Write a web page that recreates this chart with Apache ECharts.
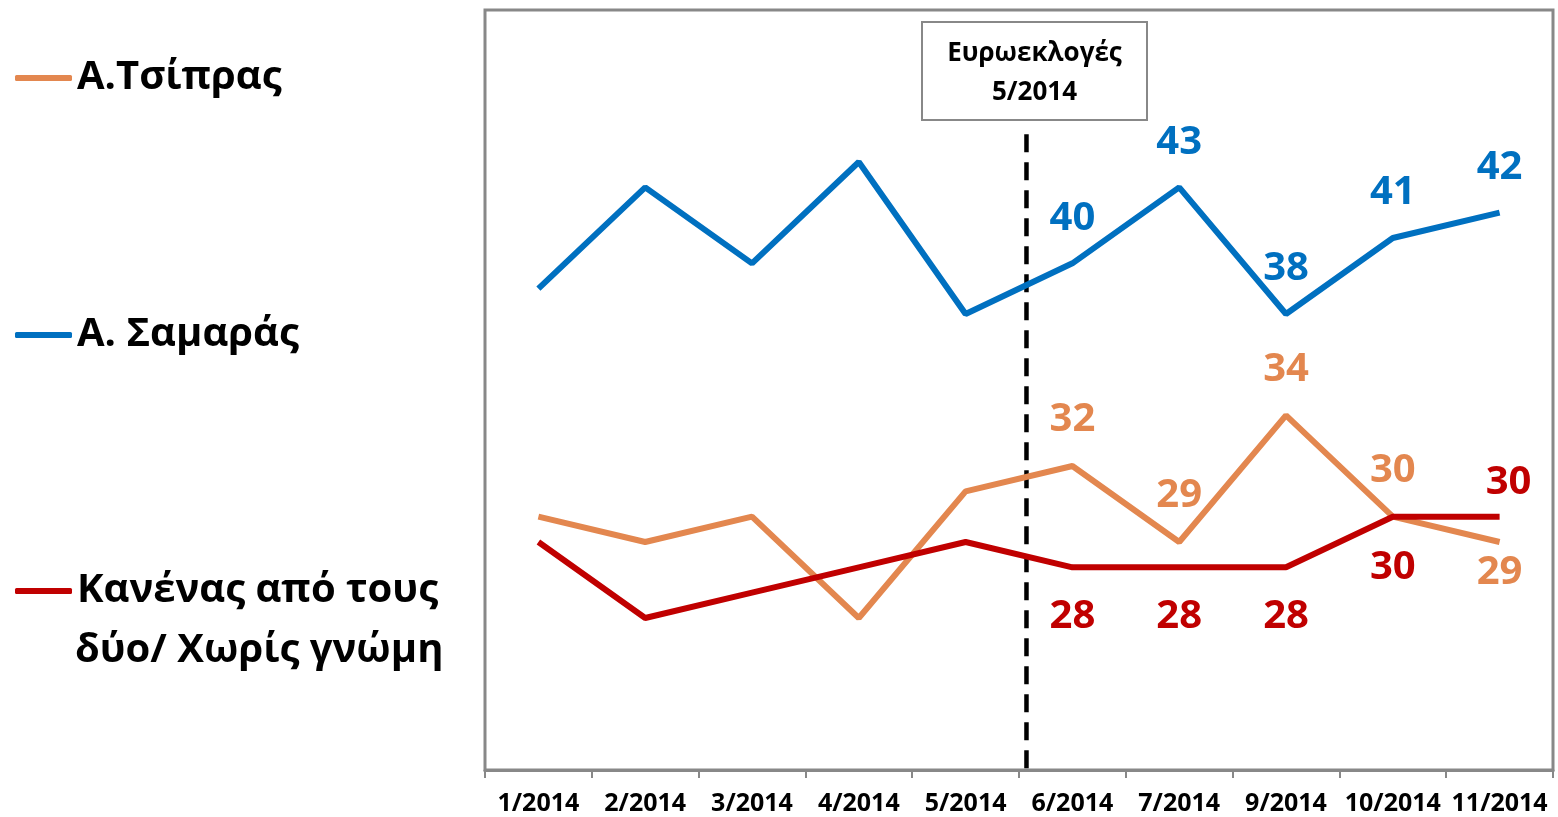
<!DOCTYPE html>
<html>
<head>
<meta charset="utf-8">
<script src="https://cdn.jsdelivr.net/npm/echarts@6/dist/echarts.min.js"></script>
<style>html,body{margin:0;padding:0;background:#fff}#c{width:1558px;height:817px}</style>
</head>
<body>
<div id="c"></div>
<script>
const categories = ['1/2014','2/2014','3/2014','4/2014','5/2014','6/2014','7/2014','9/2014','10/2014','11/2014'];
const tsipras = [30, 29, 30, 26, 31, 32, 29, 34, 30, 29];
const samaras = [39, 43, 40, 44, 38, 40, 43, 38, 41, 42];
const none = [29, 26, 27, 28, 29, 28, 28, 28, 30, 30];
const seriesNames = ['Α.Τσίπρας', 'Α. Σαμαράς', 'Κανένας από τους δύο/ Χωρίς γνώμη'];
const electionPos = 5.07;   // between 5/2014 and 6/2014
const electionText = 'Ευρωεκλογές\n5/2014';

// label styling (positions only, not data)
const tsiprasLbl = [null,null,null,null,null,['top',26],['top',26],['top',26],['top',26],['bottom',11]];
const samarasLbl = [null,null,null,null,null,['top',25],['top',25],['top',25],['top',25],['top',25]];
const noneLbl    = [null,null,null,null,null,['bottom',29],['bottom',29],['bottom',29],['bottom',31],['top',14,9]];

const FONT = '"Open Sans", "Noto Sans", sans-serif';
const C_TS = '#E3874F', C_SA = '#0070C0', C_NO = '#C00000';

function build(vals, lbl, color) {
  return vals.map((v, i) => {
    const l = lbl[i];
    if (!l) return { value: v, label: { show: false } };
    return { value: v, label: { show: true, position: l[0], distance: l[1], offset: [l[2] || 0, 0],
      color: color, fontSize: 40, fontWeight: 'bold', fontFamily: FONT } };
  });
}

function mkLine(name, vals, lbl, color) {
  return {
    name: name, type: 'line', data: build(vals, lbl, color),
    symbol: 'circle', symbolSize: 0, showSymbol: true,
    lineStyle: { color: color, width: 6 }, itemStyle: { color: color },
    emphasis: { disabled: true }, z: 3
  };
}

const legendText = { fontSize: 40, fontWeight: 'bold', fontFamily: FONT, color: '#000', lineHeight: 48 };
function mkLegend(name, top, fmt) {
  return { show: true, data: [name], left: 15, top: top, orient: 'vertical', padding: 0,
    icon: 'roundRect', itemWidth: 57, itemHeight: 6, itemGap: 0, selectedMode: false,
    textStyle: legendText, formatter: fmt || undefined };
}

const chart = echarts.init(document.getElementById('c'));
chart.setOption({
  animation: false,
  grid: { left: 485, right: 5, top: 10, bottom: 47, show: true, borderColor: '#888', borderWidth: 3, backgroundColor: 'transparent' },
  legend: [
    mkLegend(seriesNames[0], 54),
    mkLegend(seriesNames[1], 311),
    mkLegend(seriesNames[2], 567, () => 'Κανένας από τους')
  ],
  xAxis: [
    { type: 'category', data: categories, boundaryGap: true,
      axisLine: { lineStyle: { color: '#888', width: 3 } },
      axisTick: { show: true, length: 8, interval: 0, lineStyle: { color: '#888', width: 2 } },
      axisLabel: { color: '#000', fontSize: 25, fontWeight: 'bold', fontFamily: FONT, margin: 21, interval: 0 },
      splitLine: { show: false } },
    { type: 'value', min: 0, max: 10, show: false }
  ],
  yAxis: { type: 'value', min: 20, max: 50, show: false, splitLine: { show: false } },
  series: [
    mkLine(seriesNames[0], tsipras, tsiprasLbl, C_TS),
    mkLine(seriesNames[1], samaras, samarasLbl, C_SA),
    mkLine(seriesNames[2], none, noneLbl, C_NO),
    { name: 'election', type: 'line', xAxisIndex: 1, data: [[electionPos, 45.1], [electionPos, 19.7]],
      symbol: 'none', clip: false, silent: true, z: 2,
      lineStyle: { color: '#000', width: 4.5, type: [18, 10] } }
  ],
  graphic: [
    { type: 'rect', shape: { x: 922, y: 22, width: 225, height: 98 },
      style: { fill: '#fff', stroke: '#888', lineWidth: 2 }, z: 10 },
    { type: 'text', x: 1034.5, y: 73, z: 11,
      style: { text: electionText, fill: '#000', font: 'bold 26px ' + FONT, align: 'center', verticalAlign: 'middle', lineHeight: 39 } },
    { type: 'text', x: 75, y: 651, z: 11,
      style: { text: 'δύο/ Χωρίς γνώμη', fill: '#000', font: 'bold 40px ' + FONT, align: 'left', verticalAlign: 'middle' } }
  ]
});
</script>
</body>
</html>
